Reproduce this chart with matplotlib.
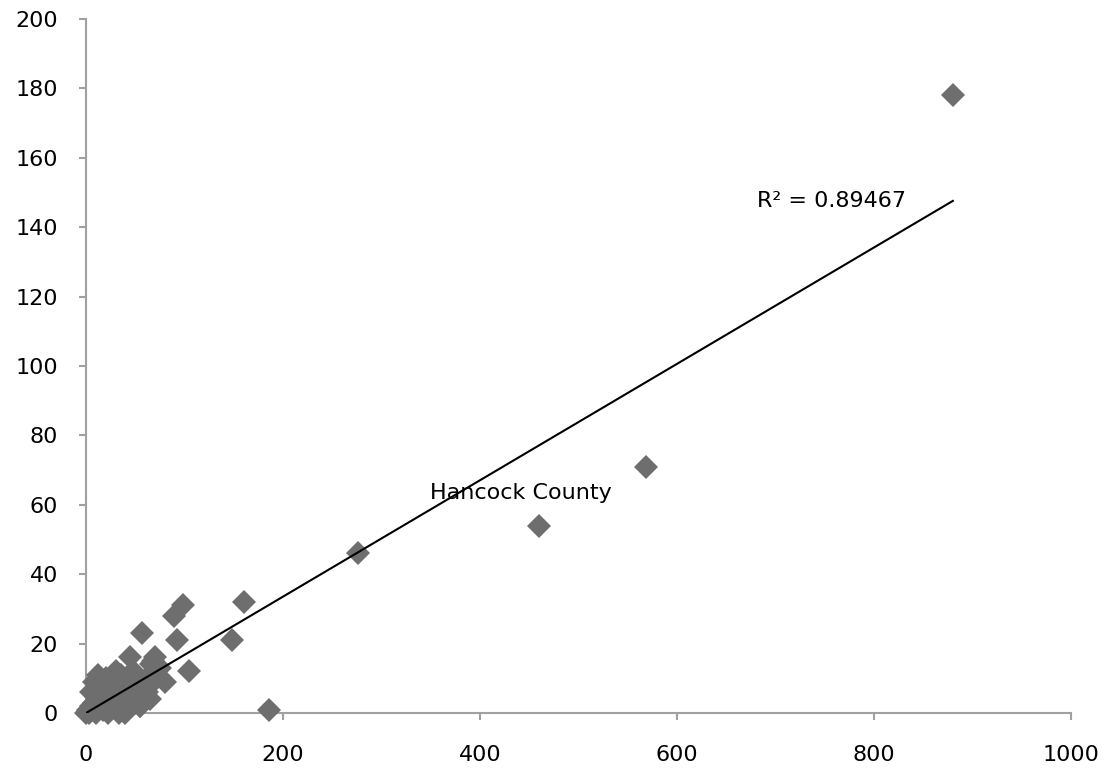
import matplotlib.pyplot as plt
import numpy as np

# county values (x = total, y = subset)
x_vals = [880, 569, 460, 276, 186, 160, 148, 105, 98, 89, 92, 80, 57, 45, 70, 68, 72,
          55, 62, 50, 0, 2, 3, 5, 6, 8, 10, 10, 12, 14, 15, 17, 18, 20, 20, 22, 24, 25,
          27, 28, 30, 32, 33, 35, 36, 38, 40, 42, 45, 47, 50, 52, 55, 58, 60, 62, 65,
          8, 12, 5, 40, 48, 30, 66, 75, 65]
y_vals = [178, 71, 54, 46, 1, 32, 21, 12, 31, 28, 21, 9, 23, 16, 16, 15, 13,
          2, 6, 8, 0, 1, 0, 2, 1, 3, 0, 5, 2, 4, 8, 1, 6, 3, 10, 0, 7, 5,
          11, 2, 9, 4, 0, 6, 11, 3, 8, 1, 5, 9, 3, 7, 2, 4, 6, 10, 8,
          9, 11, 6, 0, 12, 12, 14, 13, 4]

trend_slope = 0.1677
trend_intercept = 0.0
r_squared = "0.89467"

x_ticks = [0, 200, 400, 600, 800, 1000]
y_ticks = [0, 20, 40, 60, 80, 100, 120, 140, 160, 180, 200]

fig = plt.figure(figsize=(11.07, 7.72), dpi=100)
ax = fig.add_axes([0.0777, 0.0764, 0.8898, 0.899])

ax.plot(x_vals, y_vals, linestyle="none", marker="D", markersize=12.5,
        color="#6e6e6e", markeredgewidth=0, clip_on=False, zorder=3)

tx = np.array([0, max(x_vals)])
ax.plot(tx, trend_slope * tx + trend_intercept, color="black", linewidth=1.5, zorder=4)

ax.text(681, 147.5, "R² = " + r_squared, fontsize=16, va="center", ha="left")
ax.text(349, 63.4, "Hancock County", fontsize=16, va="center", ha="left")

ax.set_xlim(0, 1000)
ax.set_ylim(0, 200)
ax.set_xticks(x_ticks)
ax.set_yticks(y_ticks)
ax.tick_params(axis="y", labelsize=16, color="#a0a0a0", length=5, width=1.5, pad=15)
ax.tick_params(axis="x", labelsize=16, color="#a0a0a0", length=5, width=1.5, pad=18)
for s in ["top", "right"]:
    ax.spines[s].set_visible(False)
for s in ["left", "bottom"]:
    ax.spines[s].set_color("#a0a0a0")
    ax.spines[s].set_linewidth(1.5)

plt.savefig("out.png", dpi=100)
